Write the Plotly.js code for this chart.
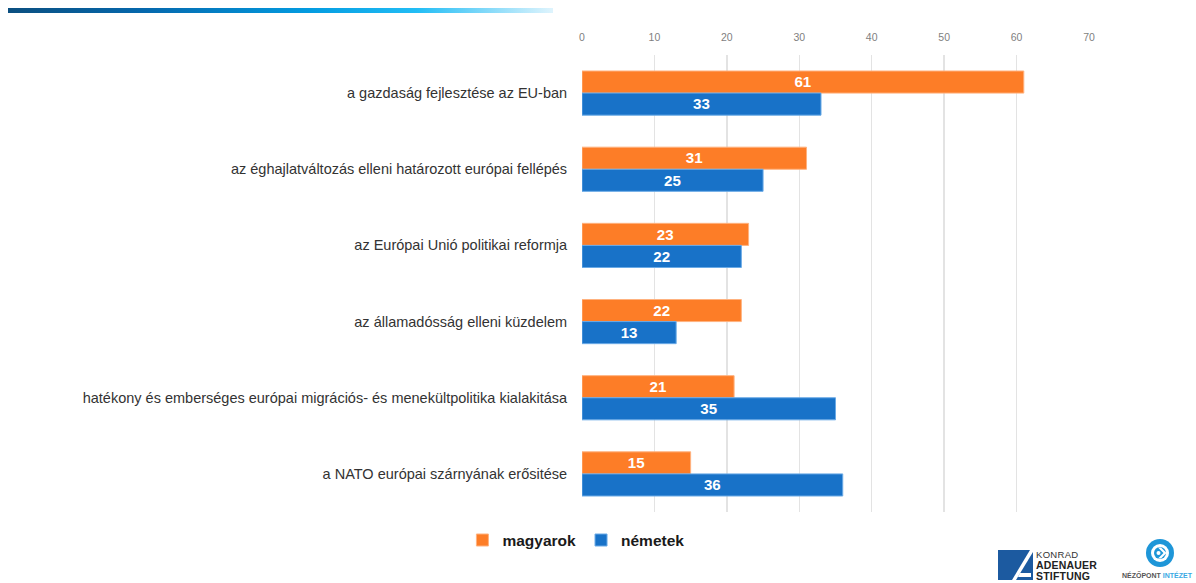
<!DOCTYPE html>
<html>
<head>
<meta charset="utf-8">
<script src="https://cdn.plot.ly/plotly-3.0.1.min.js"></script>
<style>
html,body{margin:0;padding:0;background:#fff;}
#wrap{position:relative;width:1196px;height:583px;overflow:hidden;}
#chart{position:absolute;left:0;top:0;width:1196px;height:583px;}
#topline{position:absolute;left:8px;top:8px;width:545px;height:5px;
 background:linear-gradient(to right,#0b4f80 0%,#0568ad 25%,#039be0 55%,#22bdf5 75%,#dff4fd 100%);}
#logos{position:absolute;left:0;top:0;}
</style>
</head>
<body>
<div id="wrap">
<div id="chart"></div>
<div id="topline"></div>
<svg id="logos" width="1196" height="583" xmlns="http://www.w3.org/2000/svg">
  <!-- KAS logo -->
  <polygon points="998,550 1030,550 1012,580 998,580" fill="#1c5aa0"/>
  <polygon points="1016,580 1033,552 1033,580" fill="#1c5aa0"/>
  <polygon points="1020,573 1031,573 1031,577 1018,577" fill="#ffffff"/>
  <text x="1036" y="558" font-family="Liberation Sans, Arial" font-size="9.5" fill="#333" letter-spacing="0.3">KONRAD</text>
  <text x="1036" y="569" font-family="Liberation Sans, Arial" font-size="10.5" font-weight="bold" fill="#222" letter-spacing="0.2">ADENAUER</text>
  <text x="1036" y="580" font-family="Liberation Sans, Arial" font-size="10.5" font-weight="bold" fill="#222" letter-spacing="0.2">STIFTUNG</text>
  <!-- Nezopont logo -->
  <circle cx="1160" cy="553" r="14" fill="#1e96d8"/>
  <circle cx="1160" cy="553" r="9" fill="#ffffff"/>
  <circle cx="1160" cy="553" r="6" fill="#1e96d8"/>
  <path d="M1161,547.5 L1166.5,553 L1161,558.5 L1158,558.5 L1163.5,553 L1158,547.5 Z" fill="#ffffff"/>
  <circle cx="1158.5" cy="553" r="2" fill="#ffffff"/>
  <text x="1122" y="578" font-family="Liberation Sans, Arial" font-size="7" font-weight="bold" fill="#555">NÉZŐPONT <tspan fill="#39a9e3">INTÉZET</tspan></text>
</svg>
</div>
<script>
const categories = [
  "a gazdaság fejlesztése az EU-ban",
  "az éghajlatváltozás elleni határozott európai fellépés",
  "az Európai Unió politikai reformja",
  "az államadósság elleni küzdelem",
  "hatékony és emberséges európai migrációs- és menekültpolitika kialakitása",
  "a NATO európai szárnyának erősitése"
];
const magyarok = [61, 31, 23, 22, 21, 15];
const nemetek = [33, 25, 22, 13, 35, 36];
const seriesNames = ["magyarok", "németek"];
const xTicks = [0, 10, 20, 30, 40, 50, 60, 70];

const labelFont = {family: "Liberation Sans Narrow, Arial Narrow, Liberation Sans, Arial", size: 16, color: "#ffffff"};

function mkTrace(vals, name, color, line) {
  return {
    type: "bar", orientation: "h",
    y: categories, x: vals, name: name,
    marker: {color: color, line: {color: line, width: 1}},
    text: vals.map(v => "<b>" + v + "</b>"),
    textposition: "inside", insidetextanchor: "middle",
    textfont: labelFont, hoverinfo: "skip", cliponaxis: false
  };
}

const data = [
  mkTrace(magyarok, seriesNames[0], "#fd7d27", "#ffb27f"),
  mkTrace(nemetek, seriesNames[1], "#1872c8", "#6aaae6")
];

const layout = {
  width: 1196, height: 583,
  margin: {l: 582, r: 107, t: 55, b: 71},
  paper_bgcolor: "#ffffff", plot_bgcolor: "#ffffff",
  barmode: "group", bargap: 0.42, bargroupgap: 0,
  showlegend: true,
  legend: {orientation: "h", x: -0.012, y: -0.025, xanchor: "center", yanchor: "top",
    font: {family: "Liberation Sans, Arial", size: 15.5, color: "#1a1a1a", weight: "bold"},
    itemwidth: 30, traceorder: "normal"},
  xaxis: {
    side: "top", range: [0, 70], tickvals: xTicks, ticktext: xTicks.map(String),
    showgrid: true, gridcolor: "#e3e3e3", gridwidth: 1.3, zeroline: false,
    showline: false, ticks: "outside", ticklen: 9, tickcolor: "rgba(0,0,0,0)",
    tickfont: {family: "Liberation Sans, Arial", size: 10.5, color: "#7f7f7f"},
    fixedrange: true
  },
  yaxis: {
    type: "category", autorange: "reversed", showgrid: false, zeroline: false,
    showline: false, ticks: "outside", ticklen: 11, tickcolor: "rgba(0,0,0,0)",
    tickfont: {family: "Liberation Sans, Arial", size: 14.5, color: "#333333"},
    fixedrange: true
  },
  font: {family: "Liberation Sans, Arial"}
};

Plotly.newPlot("chart", data, layout, {displayModeBar: false, staticPlot: true});
</script>
</body>
</html>
